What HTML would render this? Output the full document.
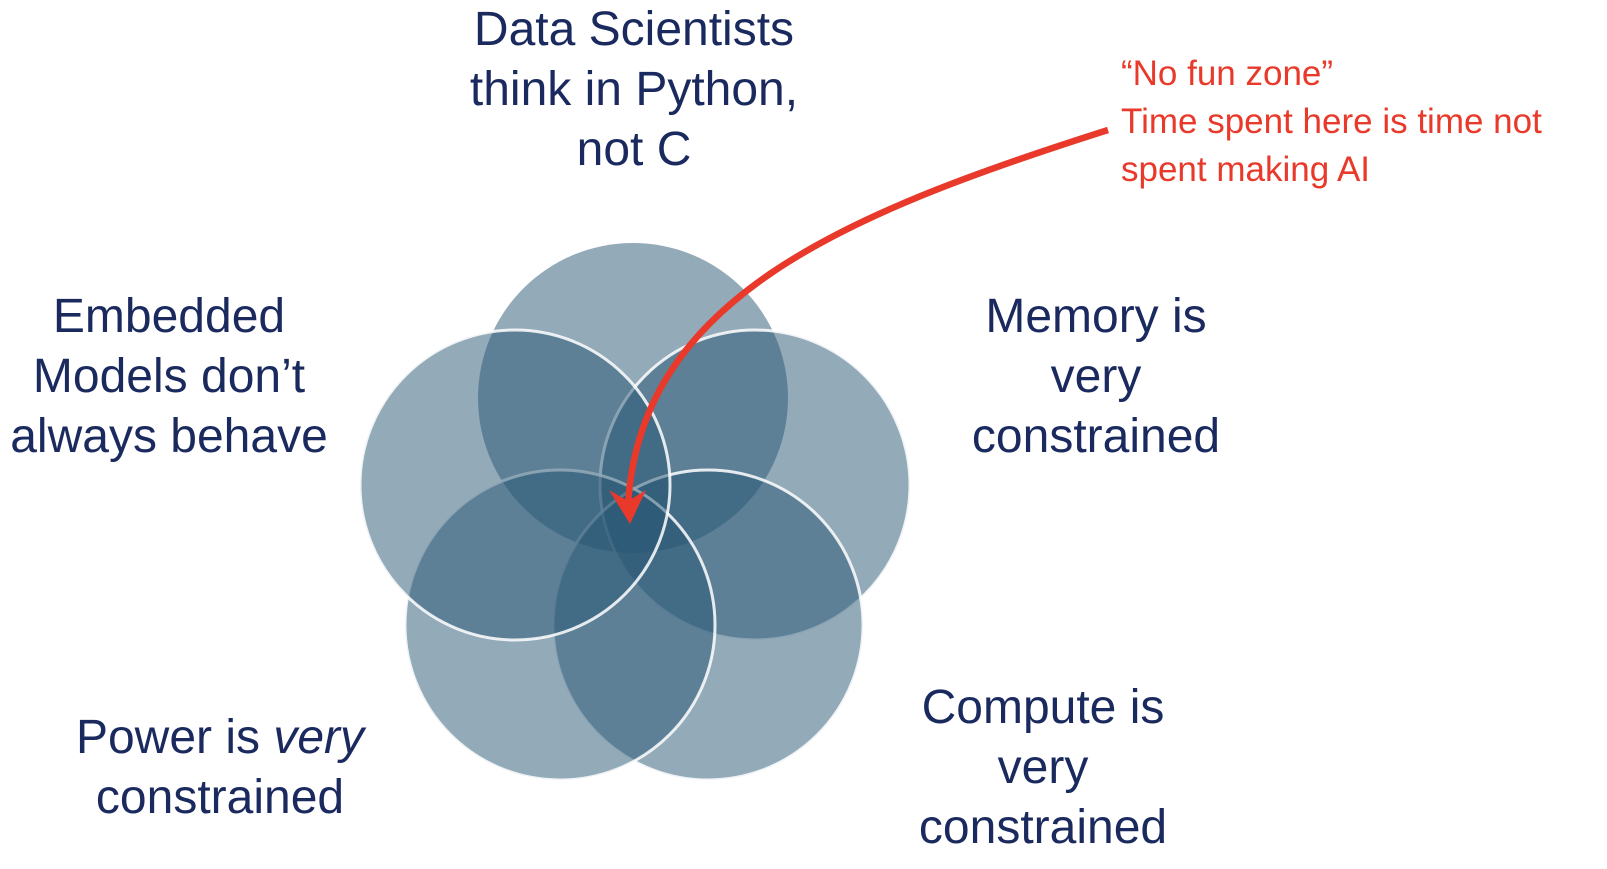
<!DOCTYPE html>
<html><head><style>
body{margin:0;width:1607px;height:869px;background:#fff;overflow:hidden;font-family:"Liberation Sans",sans-serif;}
.t{position:absolute;color:#1b2a5e;font-size:48px;line-height:60px;text-align:center;white-space:nowrap;}
.r{position:absolute;color:#e8392a;font-size:35px;line-height:48px;white-space:nowrap;}
</style></head><body>
<svg width="1607" height="869" style="position:absolute;left:0;top:0">
<g fill="rgb(40,85,115)" fill-opacity="0.5" stroke="#fff" stroke-opacity="0.85" stroke-width="3">
<circle cx="633" cy="398" r="155" stroke="none"/>
<circle cx="755" cy="485" r="155"/>
<circle cx="708" cy="625" r="155"/>
<circle cx="560" cy="625" r="155"/>
<circle cx="515" cy="485" r="155"/>
</g>
<path d="M1108,130 C840,215 640,300 628,505" fill="none" stroke="#e8392a" stroke-width="6.5"/>
<polygon points="630,524 609,490 628,501 646,490" fill="#e8392a"/>
</svg>
<div class="t" style="left:434px;top:0px;width:400px">Data Scientists<br>think in Python,<br>not C</div>
<div class="t" style="left:-1px;top:287px;width:340px">Embedded<br>Models don’t<br>always behave</div>
<div class="t" style="left:946px;top:287px;width:300px">Memory is<br>very<br>constrained</div>
<div class="t" style="left:40px;top:708px;width:360px">Power is <i>very</i><br>constrained</div>
<div class="t" style="left:893px;top:678px;width:300px">Compute is<br>very<br>constrained</div>
<div class="r" style="left:1121px;top:50px;">“No fun zone”<br>Time spent here is time not<br>spent making AI</div>
</body></html>
